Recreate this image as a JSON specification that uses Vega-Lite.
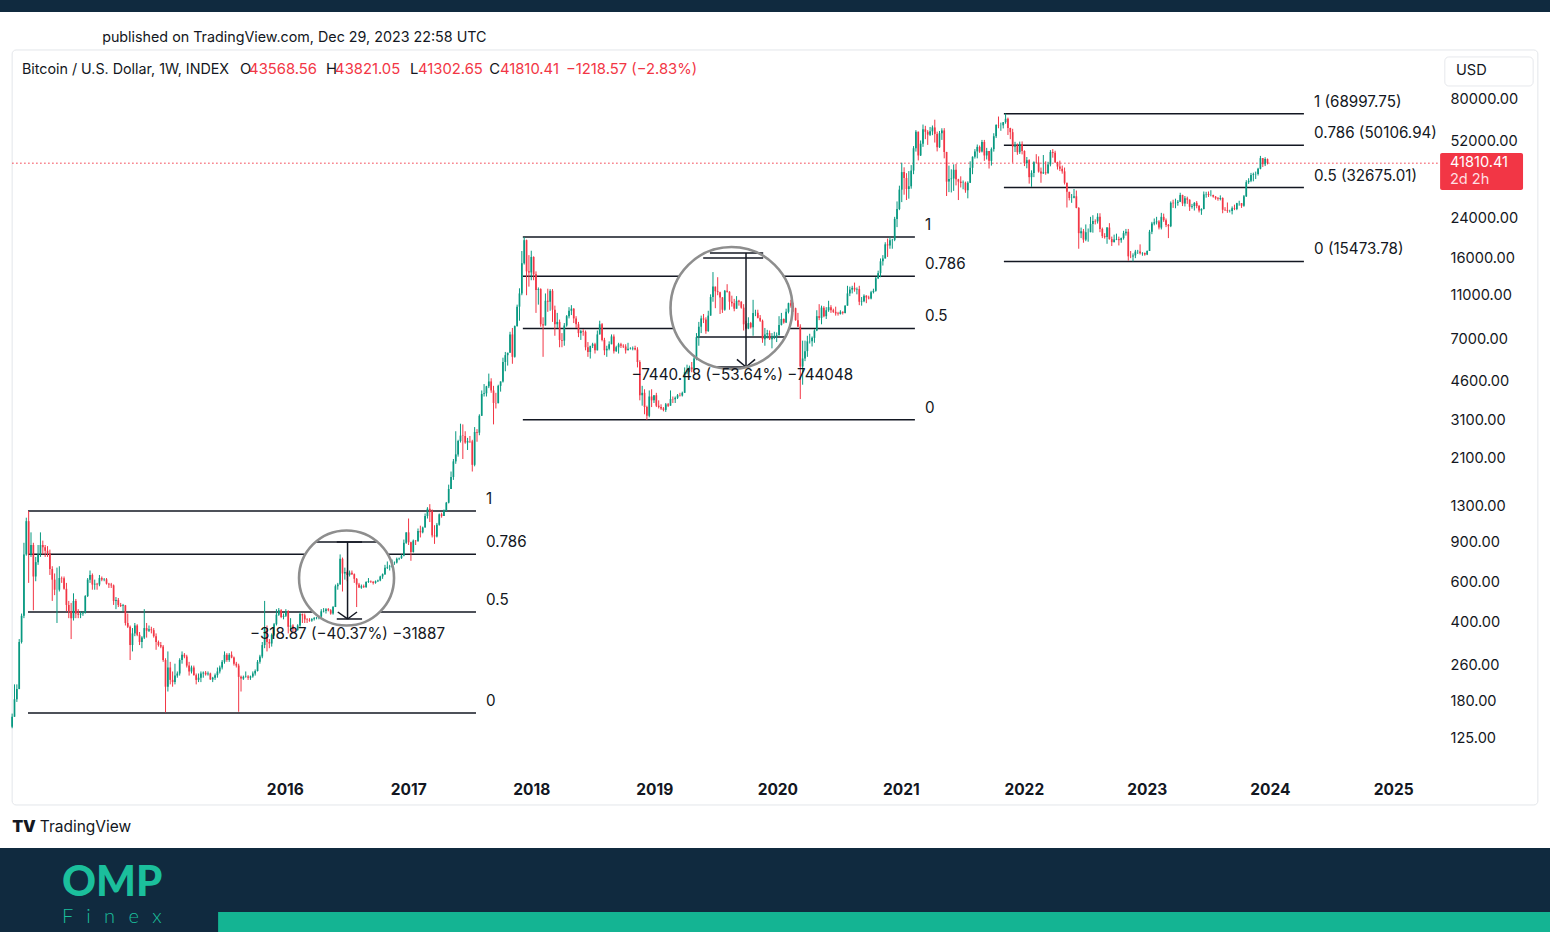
{
"$schema":"https://vega.github.io/schema/vega-lite/v6.json",
"width":1550,"height":932,"autosize":{"type":"none"},"padding":0,"background":"#ffffff",
"config":{"view":{"stroke":null},"text":{"font":"Inter"}},
"resolve":{"axis":{"x":"independent","y":"independent"}},
"datasets":{"one":[{}],"btc":[
{"d":"2013-10-14","o":140,"h":160,"l":138,"c":155},{"d":"2013-10-21","o":155,"h":215,"l":155,"c":185},{"d":"2013-10-28","o":185,"h":215,"l":180,"c":205},{"d":"2013-11-04","o":205,"h":340,"l":205,"c":330},{"d":"2013-11-11","o":330,"h":440,"l":325,"c":430},{"d":"2013-11-18","o":430,"h":900,"l":420,"c":800},{"d":"2013-11-25","o":800,"h":1160,"l":790,"c":1120},{"d":"2013-12-02","o":1120,"h":1240,"l":600,"c":800},{"d":"2013-12-09","o":800,"h":1000,"l":780,"c":880},{"d":"2013-12-16","o":880,"h":900,"l":455,"c":640},{"d":"2013-12-23","o":640,"h":780,"l":610,"c":740},{"d":"2013-12-30","o":740,"h":880,"l":720,"c":800},
{"d":"2014-01-06","o":800,"h":1000,"l":780,"c":880},{"d":"2014-01-13","o":880,"h":920,"l":800,"c":860},{"d":"2014-01-20","o":860,"h":880,"l":780,"c":830},{"d":"2014-01-27","o":830,"h":870,"l":780,"c":810},{"d":"2014-02-03","o":810,"h":840,"l":650,"c":690},{"d":"2014-02-10","o":690,"h":710,"l":500,"c":620},{"d":"2014-02-17","o":620,"h":660,"l":530,"c":560},{"d":"2014-02-24","o":560,"h":700,"l":400,"c":560},{"d":"2014-03-03","o":560,"h":710,"l":550,"c":630},{"d":"2014-03-10","o":630,"h":640,"l":600,"c":628},{"d":"2014-03-17","o":628,"h":640,"l":560,"c":565},{"d":"2014-03-24","o":565,"h":600,"l":450,"c":480},{"d":"2014-03-31","o":480,"h":500,"l":420,"c":450},{"d":"2014-04-07","o":450,"h":490,"l":340,"c":420},{"d":"2014-04-14","o":420,"h":540,"l":410,"c":500},{"d":"2014-04-21","o":500,"h":510,"l":420,"c":440},{"d":"2014-04-28","o":440,"h":460,"l":420,"c":435},{"d":"2014-05-05","o":435,"h":450,"l":420,"c":440},{"d":"2014-05-12","o":440,"h":450,"l":430,"c":445},{"d":"2014-05-19","o":445,"h":530,"l":440,"c":525},{"d":"2014-05-26","o":525,"h":630,"l":520,"c":620},{"d":"2014-06-02","o":620,"h":680,"l":600,"c":650},{"d":"2014-06-09","o":650,"h":660,"l":560,"c":590},{"d":"2014-06-16","o":590,"h":620,"l":560,"c":595},{"d":"2014-06-23","o":595,"h":600,"l":560,"c":590},{"d":"2014-06-30","o":590,"h":650,"l":580,"c":630},{"d":"2014-07-07","o":630,"h":640,"l":610,"c":620},{"d":"2014-07-14","o":620,"h":630,"l":610,"c":622},{"d":"2014-07-21","o":622,"h":630,"l":590,"c":595},{"d":"2014-07-28","o":595,"h":600,"l":570,"c":590},{"d":"2014-08-04","o":590,"h":600,"l":570,"c":585},{"d":"2014-08-11","o":585,"h":590,"l":480,"c":500},{"d":"2014-08-18","o":500,"h":520,"l":460,"c":505},{"d":"2014-08-25","o":505,"h":515,"l":470,"c":480},{"d":"2014-09-01","o":480,"h":490,"l":470,"c":475},{"d":"2014-09-08","o":475,"h":485,"l":450,"c":478},{"d":"2014-09-15","o":478,"h":480,"l":390,"c":400},{"d":"2014-09-22","o":400,"h":440,"l":380,"c":385},{"d":"2014-09-29","o":385,"h":390,"l":275,"c":320},{"d":"2014-10-06","o":320,"h":380,"l":300,"c":360},{"d":"2014-10-13","o":360,"h":400,"l":350,"c":390},{"d":"2014-10-20","o":390,"h":395,"l":350,"c":355},{"d":"2014-10-27","o":355,"h":365,"l":320,"c":330},{"d":"2014-11-03","o":330,"h":350,"l":310,"c":345},{"d":"2014-11-10","o":345,"h":460,"l":340,"c":380},{"d":"2014-11-17","o":380,"h":400,"l":345,"c":370},{"d":"2014-11-24","o":370,"h":390,"l":365,"c":375},{"d":"2014-12-01","o":375,"h":385,"l":360,"c":372},{"d":"2014-12-08","o":372,"h":380,"l":345,"c":350},{"d":"2014-12-15","o":350,"h":360,"l":305,"c":330},{"d":"2014-12-22","o":330,"h":335,"l":315,"c":320},{"d":"2014-12-29","o":320,"h":330,"l":310,"c":315},
{"d":"2015-01-05","o":315,"h":320,"l":270,"c":275},{"d":"2015-01-12","o":275,"h":280,"l":162,"c":210},{"d":"2015-01-19","o":210,"h":300,"l":200,"c":255},{"d":"2015-01-26","o":255,"h":270,"l":215,"c":225},{"d":"2015-02-02","o":225,"h":245,"l":210,"c":220},{"d":"2015-02-09","o":220,"h":265,"l":215,"c":235},{"d":"2015-02-16","o":235,"h":245,"l":230,"c":240},{"d":"2015-02-23","o":240,"h":280,"l":235,"c":275},{"d":"2015-03-02","o":275,"h":300,"l":265,"c":290},{"d":"2015-03-09","o":290,"h":295,"l":280,"c":285},{"d":"2015-03-16","o":285,"h":290,"l":255,"c":260},{"d":"2015-03-23","o":260,"h":270,"l":235,"c":245},{"d":"2015-03-30","o":245,"h":260,"l":240,"c":255},{"d":"2015-04-06","o":255,"h":260,"l":235,"c":236},{"d":"2015-04-13","o":236,"h":240,"l":215,"c":225},{"d":"2015-04-20","o":225,"h":240,"l":220,"c":230},{"d":"2015-04-27","o":230,"h":245,"l":220,"c":240},{"d":"2015-05-04","o":240,"h":245,"l":230,"c":242},{"d":"2015-05-11","o":242,"h":246,"l":235,"c":238},{"d":"2015-05-18","o":238,"h":245,"l":235,"c":240},{"d":"2015-05-25","o":240,"h":242,"l":225,"c":226},{"d":"2015-06-01","o":226,"h":232,"l":220,"c":230},{"d":"2015-06-08","o":230,"h":240,"l":225,"c":236},{"d":"2015-06-15","o":236,"h":255,"l":230,"c":245},{"d":"2015-06-22","o":245,"h":260,"l":240,"c":255},{"d":"2015-06-29","o":255,"h":275,"l":250,"c":270},{"d":"2015-07-06","o":270,"h":300,"l":265,"c":290},{"d":"2015-07-13","o":290,"h":295,"l":270,"c":275},{"d":"2015-07-20","o":275,"h":295,"l":270,"c":290},{"d":"2015-07-27","o":290,"h":300,"l":280,"c":282},{"d":"2015-08-03","o":282,"h":285,"l":260,"c":265},{"d":"2015-08-10","o":265,"h":270,"l":255,"c":260},{"d":"2015-08-17","o":260,"h":265,"l":163,"c":232},{"d":"2015-08-24","o":232,"h":235,"l":200,"c":228},{"d":"2015-08-31","o":228,"h":235,"l":225,"c":232},{"d":"2015-09-07","o":232,"h":245,"l":230,"c":233},{"d":"2015-09-14","o":233,"h":236,"l":225,"c":230},{"d":"2015-09-21","o":230,"h":235,"l":225,"c":233},{"d":"2015-09-28","o":233,"h":245,"l":230,"c":240},{"d":"2015-10-05","o":240,"h":250,"l":235,"c":246},{"d":"2015-10-12","o":246,"h":275,"l":245,"c":270},{"d":"2015-10-19","o":270,"h":290,"l":265,"c":285},{"d":"2015-10-26","o":285,"h":330,"l":280,"c":320},{"d":"2015-11-02","o":320,"h":500,"l":310,"c":380},{"d":"2015-11-09","o":380,"h":390,"l":300,"c":330},{"d":"2015-11-16","o":330,"h":340,"l":310,"c":325},{"d":"2015-11-23","o":325,"h":360,"l":315,"c":355},{"d":"2015-11-30","o":355,"h":400,"l":350,"c":395},{"d":"2015-12-07","o":395,"h":460,"l":390,"c":435},{"d":"2015-12-14","o":435,"h":465,"l":430,"c":455},{"d":"2015-12-21","o":455,"h":460,"l":420,"c":425},{"d":"2015-12-28","o":425,"h":440,"l":415,"c":430},
{"d":"2016-01-04","o":430,"h":460,"l":425,"c":450},{"d":"2016-01-11","o":450,"h":455,"l":360,"c":385},{"d":"2016-01-18","o":385,"h":420,"l":370,"c":390},{"d":"2016-01-25","o":390,"h":395,"l":365,"c":375},{"d":"2016-02-01","o":375,"h":380,"l":365,"c":372},{"d":"2016-02-08","o":372,"h":395,"l":370,"c":390},{"d":"2016-02-15","o":390,"h":445,"l":385,"c":438},{"d":"2016-02-22","o":438,"h":440,"l":400,"c":432},{"d":"2016-02-29","o":432,"h":440,"l":400,"c":415},{"d":"2016-03-07","o":415,"h":420,"l":400,"c":413},{"d":"2016-03-14","o":413,"h":420,"l":405,"c":410},{"d":"2016-03-21","o":410,"h":420,"l":405,"c":416},{"d":"2016-03-28","o":416,"h":425,"l":410,"c":420},{"d":"2016-04-04","o":420,"h":425,"l":415,"c":422},{"d":"2016-04-11","o":422,"h":430,"l":415,"c":427},{"d":"2016-04-18","o":427,"h":460,"l":420,"c":450},{"d":"2016-04-25","o":450,"h":465,"l":445,"c":452},{"d":"2016-05-02","o":452,"h":465,"l":440,"c":460},{"d":"2016-05-09","o":460,"h":465,"l":450,"c":455},{"d":"2016-05-16","o":455,"h":460,"l":435,"c":440},{"d":"2016-05-23","o":440,"h":475,"l":435,"c":470},{"d":"2016-05-30","o":470,"h":590,"l":470,"c":580},{"d":"2016-06-06","o":580,"h":600,"l":560,"c":590},{"d":"2016-06-13","o":590,"h":800,"l":590,"c":765},{"d":"2016-06-20","o":765,"h":775,"l":550,"c":660},{"d":"2016-06-27","o":660,"h":700,"l":620,"c":670},{"d":"2016-07-04","o":670,"h":680,"l":610,"c":650},{"d":"2016-07-11","o":650,"h":680,"l":640,"c":665},{"d":"2016-07-18","o":665,"h":680,"l":650,"c":655},{"d":"2016-07-25","o":655,"h":660,"l":600,"c":625},{"d":"2016-08-01","o":625,"h":630,"l":470,"c":590},{"d":"2016-08-08","o":590,"h":600,"l":570,"c":572},{"d":"2016-08-15","o":572,"h":590,"l":565,"c":580},{"d":"2016-08-22","o":580,"h":590,"l":570,"c":575},{"d":"2016-08-29","o":575,"h":610,"l":570,"c":605},{"d":"2016-09-05","o":605,"h":630,"l":600,"c":610},{"d":"2016-09-12","o":610,"h":615,"l":600,"c":607},{"d":"2016-09-19","o":607,"h":610,"l":590,"c":600},{"d":"2016-09-26","o":600,"h":615,"l":595,"c":610},{"d":"2016-10-03","o":610,"h":620,"l":605,"c":615},{"d":"2016-10-10","o":615,"h":645,"l":610,"c":640},{"d":"2016-10-17","o":640,"h":660,"l":625,"c":655},{"d":"2016-10-24","o":655,"h":720,"l":650,"c":700},{"d":"2016-10-31","o":700,"h":745,"l":690,"c":705},{"d":"2016-11-07","o":705,"h":720,"l":680,"c":708},{"d":"2016-11-14","o":708,"h":760,"l":700,"c":735},{"d":"2016-11-21","o":735,"h":745,"l":720,"c":737},{"d":"2016-11-28","o":737,"h":775,"l":730,"c":765},{"d":"2016-12-05","o":765,"h":775,"l":755,"c":770},{"d":"2016-12-12","o":770,"h":800,"l":765,"c":790},{"d":"2016-12-19","o":790,"h":930,"l":785,"c":900},{"d":"2016-12-26","o":900,"h":1000,"l":890,"c":1000},
{"d":"2017-01-02","o":1000,"h":1150,"l":880,"c":905},{"d":"2017-01-09","o":905,"h":910,"l":750,"c":820},{"d":"2017-01-16","o":820,"h":930,"l":815,"c":920},{"d":"2017-01-23","o":920,"h":925,"l":880,"c":915},{"d":"2017-01-30","o":915,"h":1040,"l":910,"c":1015},{"d":"2017-02-06","o":1015,"h":1070,"l":950,"c":1000},{"d":"2017-02-13","o":1000,"h":1060,"l":990,"c":1050},{"d":"2017-02-20","o":1050,"h":1210,"l":1050,"c":1180},{"d":"2017-02-27","o":1180,"h":1290,"l":1150,"c":1270},{"d":"2017-03-06","o":1270,"h":1330,"l":1110,"c":1240},{"d":"2017-03-13","o":1240,"h":1260,"l":950,"c":970},{"d":"2017-03-20","o":970,"h":1075,"l":890,"c":960},{"d":"2017-03-27","o":960,"h":1100,"l":950,"c":1080},{"d":"2017-04-03","o":1080,"h":1210,"l":1070,"c":1200},{"d":"2017-04-10","o":1200,"h":1220,"l":1160,"c":1180},{"d":"2017-04-17","o":1180,"h":1260,"l":1180,"c":1250},{"d":"2017-04-24","o":1250,"h":1360,"l":1240,"c":1350},{"d":"2017-05-01","o":1350,"h":1620,"l":1340,"c":1550},{"d":"2017-05-08","o":1550,"h":1850,"l":1550,"c":1750},{"d":"2017-05-15","o":1750,"h":2100,"l":1700,"c":2050},{"d":"2017-05-22","o":2050,"h":2780,"l":2000,"c":2200},{"d":"2017-05-29","o":2200,"h":2550,"l":2150,"c":2520},{"d":"2017-06-05","o":2520,"h":3000,"l":2480,"c":2660},{"d":"2017-06-12","o":2660,"h":2980,"l":2100,"c":2650},{"d":"2017-06-19","o":2650,"h":2780,"l":2450,"c":2480},{"d":"2017-06-26","o":2480,"h":2600,"l":2300,"c":2520},{"d":"2017-07-03","o":2520,"h":2650,"l":2470,"c":2510},{"d":"2017-07-10","o":2510,"h":2550,"l":1850,"c":1980},{"d":"2017-07-17","o":1980,"h":2900,"l":1950,"c":2760},{"d":"2017-07-24","o":2760,"h":2840,"l":2500,"c":2740},{"d":"2017-07-31","o":2740,"h":3300,"l":2670,"c":3250},{"d":"2017-08-07","o":3250,"h":4200,"l":3250,"c":4050},{"d":"2017-08-14","o":4050,"h":4480,"l":3950,"c":4080},{"d":"2017-08-21","o":4080,"h":4400,"l":3950,"c":4380},{"d":"2017-08-28","o":4380,"h":4980,"l":4300,"c":4600},{"d":"2017-09-04","o":4600,"h":4750,"l":4100,"c":4200},{"d":"2017-09-11","o":4200,"h":4400,"l":2980,"c":3700},{"d":"2017-09-18","o":3700,"h":4100,"l":3500,"c":3690},{"d":"2017-09-25","o":3690,"h":4450,"l":3690,"c":4400},{"d":"2017-10-02","o":4400,"h":4600,"l":4150,"c":4600},{"d":"2017-10-09","o":4600,"h":5850,"l":4550,"c":5600},{"d":"2017-10-16","o":5600,"h":6200,"l":5100,"c":6000},{"d":"2017-10-23","o":6000,"h":6150,"l":5400,"c":6150},{"d":"2017-10-30","o":6150,"h":7600,"l":6150,"c":7400},{"d":"2017-11-06","o":7400,"h":7900,"l":5500,"c":5900},{"d":"2017-11-13","o":5900,"h":8100,"l":5850,"c":8050},{"d":"2017-11-20","o":8050,"h":10000,"l":8000,"c":9800},{"d":"2017-11-27","o":9800,"h":11800,"l":8500,"c":11200},{"d":"2017-12-04","o":11200,"h":17200,"l":11000,"c":15200},{"d":"2017-12-11","o":15200,"h":19800,"l":15000,"c":19200},{"d":"2017-12-18","o":19200,"h":19300,"l":11000,"c":14000},{"d":"2017-12-25","o":14000,"h":16500,"l":12000,"c":13850},
{"d":"2018-01-01","o":13850,"h":17250,"l":12800,"c":16200},{"d":"2018-01-08","o":16200,"h":16300,"l":12800,"c":13600},{"d":"2018-01-15","o":13600,"h":14000,"l":9200,"c":11600},{"d":"2018-01-22","o":11600,"h":11900,"l":10000,"c":11700},{"d":"2018-01-29","o":11700,"h":11800,"l":8000,"c":8200},{"d":"2018-02-05","o":8200,"h":8800,"l":5900,"c":8100},{"d":"2018-02-12","o":8100,"h":11200,"l":8100,"c":10400},{"d":"2018-02-19","o":10400,"h":11750,"l":9300,"c":10300},{"d":"2018-02-26","o":10300,"h":11700,"l":9400,"c":11500},{"d":"2018-03-05","o":11500,"h":11700,"l":8400,"c":9500},{"d":"2018-03-12","o":9500,"h":9900,"l":7300,"c":8200},{"d":"2018-03-19","o":8200,"h":9200,"l":7900,"c":8400},{"d":"2018-03-26","o":8400,"h":8600,"l":6500,"c":7000},{"d":"2018-04-02","o":7000,"h":7500,"l":6500,"c":6950},{"d":"2018-04-09","o":6950,"h":8300,"l":6600,"c":8100},{"d":"2018-04-16","o":8100,"h":9000,"l":8000,"c":8900},{"d":"2018-04-23","o":8900,"h":9750,"l":8700,"c":9400},{"d":"2018-04-30","o":9400,"h":9950,"l":9000,"c":9600},{"d":"2018-05-07","o":9600,"h":9650,"l":8300,"c":8700},{"d":"2018-05-14","o":8700,"h":8900,"l":7900,"c":8200},{"d":"2018-05-21","o":8200,"h":8400,"l":7200,"c":7500},{"d":"2018-05-28","o":7500,"h":7750,"l":7000,"c":7650},{"d":"2018-06-04","o":7650,"h":7800,"l":7300,"c":7600},{"d":"2018-06-11","o":7600,"h":7700,"l":6300,"c":6500},{"d":"2018-06-18","o":6500,"h":6850,"l":5900,"c":6200},{"d":"2018-06-25","o":6200,"h":6500,"l":5800,"c":6600},{"d":"2018-07-02","o":6600,"h":6800,"l":6450,"c":6700},{"d":"2018-07-09","o":6700,"h":6800,"l":6100,"c":6300},{"d":"2018-07-16","o":6300,"h":7700,"l":6300,"c":7400},{"d":"2018-07-23","o":7400,"h":8500,"l":7400,"c":8200},{"d":"2018-07-30","o":8200,"h":8300,"l":6900,"c":7000},{"d":"2018-08-06","o":7000,"h":7150,"l":6000,"c":6300},{"d":"2018-08-13","o":6300,"h":6600,"l":5900,"c":6400},{"d":"2018-08-20","o":6400,"h":6900,"l":6300,"c":6700},{"d":"2018-08-27","o":6700,"h":7400,"l":6700,"c":7250},{"d":"2018-09-03","o":7250,"h":7400,"l":6100,"c":6250},{"d":"2018-09-10","o":6250,"h":6600,"l":6200,"c":6500},{"d":"2018-09-17","o":6500,"h":6800,"l":6100,"c":6700},{"d":"2018-09-24","o":6700,"h":6800,"l":6450,"c":6600},{"d":"2018-10-01","o":6600,"h":6700,"l":6450,"c":6550},{"d":"2018-10-08","o":6550,"h":6700,"l":6100,"c":6300},{"d":"2018-10-15","o":6300,"h":6800,"l":6300,"c":6400},{"d":"2018-10-22","o":6400,"h":6500,"l":6350,"c":6420},{"d":"2018-10-29","o":6420,"h":6550,"l":6300,"c":6450},{"d":"2018-11-05","o":6450,"h":6600,"l":6300,"c":6350},{"d":"2018-11-12","o":6350,"h":6500,"l":5300,"c":5600},{"d":"2018-11-19","o":5600,"h":5700,"l":3800,"c":4000},{"d":"2018-11-26","o":4000,"h":4400,"l":3600,"c":4100},{"d":"2018-12-03","o":4100,"h":4250,"l":3300,"c":3550},{"d":"2018-12-10","o":3550,"h":3600,"l":3120,"c":3250},{"d":"2018-12-17","o":3250,"h":4200,"l":3200,"c":3950},{"d":"2018-12-24","o":3950,"h":4250,"l":3550,"c":3800},{"d":"2018-12-31","o":3800,"h":4000,"l":3700,"c":4000},
{"d":"2019-01-07","o":4000,"h":4100,"l":3550,"c":3600},{"d":"2019-01-14","o":3600,"h":3800,"l":3500,"c":3550},{"d":"2019-01-21","o":3550,"h":3650,"l":3450,"c":3500},{"d":"2019-01-28","o":3500,"h":3550,"l":3400,"c":3450},{"d":"2019-02-04","o":3450,"h":3700,"l":3380,"c":3650},{"d":"2019-02-11","o":3650,"h":3700,"l":3550,"c":3600},{"d":"2019-02-18","o":3600,"h":4200,"l":3600,"c":3850},{"d":"2019-02-25","o":3850,"h":3950,"l":3700,"c":3840},{"d":"2019-03-04","o":3840,"h":3950,"l":3700,"c":3900},{"d":"2019-03-11","o":3900,"h":4050,"l":3850,"c":4000},{"d":"2019-03-18","o":4000,"h":4100,"l":3950,"c":3990},{"d":"2019-03-25","o":3990,"h":4150,"l":3950,"c":4100},{"d":"2019-04-01","o":4100,"h":5300,"l":4100,"c":5050},{"d":"2019-04-08","o":5050,"h":5450,"l":4950,"c":5100},{"d":"2019-04-15","o":5100,"h":5400,"l":5050,"c":5300},{"d":"2019-04-22","o":5300,"h":5600,"l":5050,"c":5200},{"d":"2019-04-29","o":5200,"h":5900,"l":5150,"c":5800},{"d":"2019-05-06","o":5800,"h":7500,"l":5700,"c":7200},{"d":"2019-05-13","o":7200,"h":8400,"l":6600,"c":8000},{"d":"2019-05-20","o":8000,"h":8950,"l":7500,"c":8700},{"d":"2019-05-27","o":8700,"h":9100,"l":8300,"c":8600},{"d":"2019-06-03","o":8600,"h":8800,"l":7450,"c":7650},{"d":"2019-06-10","o":7650,"h":9400,"l":7600,"c":8950},{"d":"2019-06-17","o":8950,"h":11100,"l":8950,"c":10800},{"d":"2019-06-24","o":10800,"h":13900,"l":10300,"c":12000},{"d":"2019-07-01","o":12000,"h":12000,"l":9650,"c":11450},{"d":"2019-07-08","o":11450,"h":13200,"l":11000,"c":11350},{"d":"2019-07-15","o":11350,"h":11400,"l":9100,"c":10750},{"d":"2019-07-22","o":10750,"h":10800,"l":9200,"c":9500},{"d":"2019-07-29","o":9500,"h":11600,"l":9400,"c":11500},{"d":"2019-08-05","o":11500,"h":12300,"l":11300,"c":11400},{"d":"2019-08-12","o":11400,"h":11450,"l":9500,"c":10300},{"d":"2019-08-19","o":10300,"h":10950,"l":9800,"c":10150},{"d":"2019-08-26","o":10150,"h":10600,"l":9350,"c":9600},{"d":"2019-09-02","o":9600,"h":10900,"l":9600,"c":10400},{"d":"2019-09-09","o":10400,"h":10500,"l":9900,"c":10300},{"d":"2019-09-16","o":10300,"h":10350,"l":9600,"c":9700},{"d":"2019-09-23","o":9700,"h":10050,"l":7700,"c":8200},{"d":"2019-09-30","o":8200,"h":8500,"l":7800,"c":7850},{"d":"2019-10-07","o":7850,"h":8800,"l":7800,"c":8300},{"d":"2019-10-14","o":8300,"h":8400,"l":7850,"c":7950},{"d":"2019-10-21","o":7950,"h":10500,"l":7300,"c":9200},{"d":"2019-10-28","o":9200,"h":9500,"l":8900,"c":9210},{"d":"2019-11-04","o":9210,"h":9500,"l":8700,"c":8750},{"d":"2019-11-11","o":8750,"h":9000,"l":8400,"c":8500},{"d":"2019-11-18","o":8500,"h":8600,"l":6800,"c":7050},{"d":"2019-11-25","o":7050,"h":7900,"l":6600,"c":7400},{"d":"2019-12-02","o":7400,"h":7750,"l":7100,"c":7500},{"d":"2019-12-09","o":7500,"h":7700,"l":7000,"c":7050},{"d":"2019-12-16","o":7050,"h":7500,"l":6430,"c":7200},{"d":"2019-12-23","o":7200,"h":7600,"l":7050,"c":7300},{"d":"2019-12-30","o":7300,"h":7550,"l":6850,"c":7350},
{"d":"2020-01-06","o":7350,"h":8900,"l":7300,"c":8150},{"d":"2020-01-13","o":8150,"h":9200,"l":8100,"c":8650},{"d":"2020-01-20","o":8650,"h":8700,"l":8250,"c":8350},{"d":"2020-01-27","o":8350,"h":9600,"l":8300,"c":9300},{"d":"2020-02-03","o":9300,"h":10200,"l":9150,"c":10150},{"d":"2020-02-10","o":10150,"h":10500,"l":9700,"c":9900},{"d":"2020-02-17","o":9900,"h":10200,"l":9300,"c":9650},{"d":"2020-02-24","o":9650,"h":9700,"l":8500,"c":8550},{"d":"2020-03-02","o":8550,"h":9200,"l":8000,"c":8000},{"d":"2020-03-09","o":8000,"h":8200,"l":3850,"c":5350},{"d":"2020-03-16","o":5350,"h":6950,"l":4450,"c":5800},{"d":"2020-03-23","o":5800,"h":6950,"l":5650,"c":6250},{"d":"2020-03-30","o":6250,"h":7300,"l":5900,"c":6900},{"d":"2020-04-06","o":6900,"h":7450,"l":6750,"c":6910},{"d":"2020-04-13","o":6910,"h":7250,"l":6550,"c":7150},{"d":"2020-04-20","o":7150,"h":7800,"l":6800,"c":7700},{"d":"2020-04-27","o":7700,"h":9450,"l":7650,"c":8900},{"d":"2020-05-04","o":8900,"h":10050,"l":8550,"c":8750},{"d":"2020-05-11","o":8750,"h":9900,"l":8200,"c":9700},{"d":"2020-05-18","o":9700,"h":9850,"l":8800,"c":8900},{"d":"2020-05-25","o":8900,"h":9750,"l":8650,"c":9450},{"d":"2020-06-01","o":9450,"h":10400,"l":9300,"c":9750},{"d":"2020-06-08","o":9750,"h":9950,"l":9200,"c":9450},{"d":"2020-06-15","o":9450,"h":9600,"l":9200,"c":9300},{"d":"2020-06-22","o":9300,"h":9800,"l":8950,"c":9150},{"d":"2020-06-29","o":9150,"h":9300,"l":8950,"c":9100},{"d":"2020-07-06","o":9100,"h":9450,"l":9050,"c":9300},{"d":"2020-07-13","o":9300,"h":9350,"l":9050,"c":9200},{"d":"2020-07-20","o":9200,"h":9950,"l":9150,"c":9900},{"d":"2020-07-27","o":9900,"h":12100,"l":9900,"c":11200},{"d":"2020-08-03","o":11200,"h":12000,"l":10900,"c":11650},{"d":"2020-08-10","o":11650,"h":12100,"l":11200,"c":11850},{"d":"2020-08-17","o":11850,"h":12500,"l":11400,"c":11650},{"d":"2020-08-24","o":11650,"h":11900,"l":11100,"c":11700},{"d":"2020-08-31","o":11700,"h":12100,"l":9950,"c":10300},{"d":"2020-09-07","o":10300,"h":10800,"l":9900,"c":10350},{"d":"2020-09-14","o":10350,"h":11100,"l":10250,"c":10950},{"d":"2020-09-21","o":10950,"h":11000,"l":10150,"c":10750},{"d":"2020-09-28","o":10750,"h":10950,"l":10550,"c":10650},{"d":"2020-10-05","o":10650,"h":11500,"l":10550,"c":11350},{"d":"2020-10-12","o":11350,"h":11750,"l":11200,"c":11500},{"d":"2020-10-19","o":11500,"h":13250,"l":11400,"c":13050},{"d":"2020-10-26","o":13050,"h":14100,"l":12950,"c":13750},{"d":"2020-11-02","o":13750,"h":15950,"l":13200,"c":15500},{"d":"2020-11-09","o":15500,"h":16500,"l":14850,"c":15950},{"d":"2020-11-16","o":15950,"h":18800,"l":15950,"c":18400},{"d":"2020-11-23","o":18400,"h":19500,"l":16200,"c":18200},{"d":"2020-11-30","o":18200,"h":19900,"l":17600,"c":19200},{"d":"2020-12-07","o":19200,"h":19450,"l":17600,"c":19250},{"d":"2020-12-14","o":19250,"h":24300,"l":19000,"c":23800},{"d":"2020-12-21","o":23800,"h":28400,"l":21900,"c":26300},{"d":"2020-12-28","o":26300,"h":33300,"l":26000,"c":32000},
{"d":"2021-01-04","o":32000,"h":42000,"l":28200,"c":38200},{"d":"2021-01-11","o":38200,"h":40100,"l":30400,"c":36000},{"d":"2021-01-18","o":36000,"h":37800,"l":28800,"c":32200},{"d":"2021-01-25","o":32200,"h":38600,"l":29200,"c":33100},{"d":"2021-02-01","o":33100,"h":41000,"l":32300,"c":38800},{"d":"2021-02-08","o":38800,"h":49700,"l":37400,"c":48600},{"d":"2021-02-15","o":48600,"h":58400,"l":47000,"c":57500},{"d":"2021-02-22","o":57500,"h":57500,"l":43000,"c":45200},{"d":"2021-03-01","o":45200,"h":52600,"l":44950,"c":50900},{"d":"2021-03-08","o":50900,"h":61800,"l":49300,"c":58900},{"d":"2021-03-15","o":58900,"h":61000,"l":53300,"c":57400},{"d":"2021-03-22","o":57400,"h":58400,"l":50300,"c":55800},{"d":"2021-03-29","o":55800,"h":60300,"l":55000,"c":57700},{"d":"2021-04-05","o":57700,"h":61200,"l":55500,"c":60000},{"d":"2021-04-12","o":60000,"h":64900,"l":51500,"c":56200},{"d":"2021-04-19","o":56200,"h":57500,"l":47100,"c":49100},{"d":"2021-04-26","o":49100,"h":57900,"l":48800,"c":56600},{"d":"2021-05-03","o":56600,"h":59500,"l":52900,"c":58200},{"d":"2021-05-10","o":58200,"h":59600,"l":43900,"c":46800},{"d":"2021-05-17","o":46800,"h":46900,"l":30000,"c":34700},{"d":"2021-05-24","o":34700,"h":40800,"l":31200,"c":35600},{"d":"2021-05-31","o":35600,"h":39300,"l":31100,"c":35800},{"d":"2021-06-07","o":35800,"h":41300,"l":31600,"c":39100},{"d":"2021-06-14","o":39100,"h":41500,"l":33400,"c":35500},{"d":"2021-06-21","o":35500,"h":35700,"l":28800,"c":34700},{"d":"2021-06-28","o":34700,"h":36600,"l":32700,"c":34200},{"d":"2021-07-05","o":34200,"h":35100,"l":32100,"c":34300},{"d":"2021-07-12","o":34300,"h":34700,"l":31000,"c":31800},{"d":"2021-07-19","o":31800,"h":34800,"l":29300,"c":34300},{"d":"2021-07-26","o":34300,"h":42600,"l":34200,"c":39900},{"d":"2021-08-02","o":39900,"h":44800,"l":37400,"c":44600},{"d":"2021-08-09","o":44600,"h":48200,"l":43800,"c":47100},{"d":"2021-08-16","o":47100,"h":50500,"l":43900,"c":49300},{"d":"2021-08-23","o":49300,"h":50000,"l":46400,"c":47000},{"d":"2021-08-30","o":47000,"h":52900,"l":46600,"c":51800},{"d":"2021-09-06","o":51800,"h":52900,"l":42800,"c":45200},{"d":"2021-09-13","o":45200,"h":48800,"l":43400,"c":47300},{"d":"2021-09-20","o":47300,"h":47300,"l":39600,"c":42800},{"d":"2021-09-27","o":42800,"h":49000,"l":40800,"c":48200},{"d":"2021-10-04","o":48200,"h":56600,"l":47000,"c":54900},{"d":"2021-10-11","o":54900,"h":62000,"l":53900,"c":61500},{"d":"2021-10-18","o":61500,"h":67000,"l":59500,"c":61300},{"d":"2021-10-25","o":61300,"h":63000,"l":58000,"c":61310},{"d":"2021-11-01","o":61310,"h":63300,"l":59400,"c":63300},{"d":"2021-11-08","o":63300,"h":69000,"l":62300,"c":65500},{"d":"2021-11-15","o":65500,"h":66300,"l":55600,"c":59700},{"d":"2021-11-22","o":59700,"h":59800,"l":53300,"c":57200},{"d":"2021-11-29","o":57200,"h":59200,"l":42000,"c":49400},{"d":"2021-12-06","o":49400,"h":51900,"l":46800,"c":50100},{"d":"2021-12-13","o":50100,"h":51000,"l":45500,"c":46700},{"d":"2021-12-20","o":46700,"h":52000,"l":45900,"c":50800},{"d":"2021-12-27","o":50800,"h":52100,"l":45700,"c":47300},
{"d":"2022-01-03","o":47300,"h":47600,"l":40600,"c":41800},{"d":"2022-01-10","o":41800,"h":44500,"l":39700,"c":43100},{"d":"2022-01-17","o":43100,"h":43500,"l":34000,"c":36300},{"d":"2022-01-24","o":36300,"h":38900,"l":32900,"c":37900},{"d":"2022-01-31","o":37900,"h":42600,"l":36300,"c":42200},{"d":"2022-02-07","o":42200,"h":45800,"l":41700,"c":42100},{"d":"2022-02-14","o":42100,"h":44800,"l":38000,"c":38400},{"d":"2022-02-21","o":38400,"h":40000,"l":34300,"c":37700},{"d":"2022-02-28","o":37700,"h":45400,"l":37500,"c":38100},{"d":"2022-03-07","o":38100,"h":42600,"l":37200,"c":37800},{"d":"2022-03-14","o":37800,"h":42400,"l":37600,"c":41300},{"d":"2022-03-21","o":41300,"h":47700,"l":40500,"c":46800},{"d":"2022-03-28","o":46800,"h":48200,"l":44200,"c":46400},{"d":"2022-04-04","o":46400,"h":47400,"l":41900,"c":42200},{"d":"2022-04-11","o":42200,"h":42400,"l":39200,"c":40400},{"d":"2022-04-18","o":40400,"h":42900,"l":38600,"c":39500},{"d":"2022-04-25","o":39500,"h":40800,"l":37600,"c":38500},{"d":"2022-05-02","o":38500,"h":40000,"l":33700,"c":34300},{"d":"2022-05-09","o":34300,"h":34300,"l":26700,"c":31300},{"d":"2022-05-16","o":31300,"h":31300,"l":28700,"c":29400},{"d":"2022-05-23","o":29400,"h":30600,"l":28000,"c":29450},{"d":"2022-05-30","o":29450,"h":32200,"l":29300,"c":29900},{"d":"2022-06-06","o":29900,"h":31700,"l":26500,"c":26600},{"d":"2022-06-13","o":26600,"h":26800,"l":17600,"c":20600},{"d":"2022-06-20","o":20600,"h":21800,"l":19600,"c":21000},{"d":"2022-06-27","o":21000,"h":21500,"l":18700,"c":19300},{"d":"2022-07-04","o":19300,"h":22500,"l":19000,"c":20800},{"d":"2022-07-11","o":20800,"h":21600,"l":18900,"c":20810},{"d":"2022-07-18","o":20810,"h":24300,"l":20800,"c":22600},{"d":"2022-07-25","o":22600,"h":24700,"l":20700,"c":23300},{"d":"2022-08-01","o":23300,"h":23700,"l":22500,"c":23200},{"d":"2022-08-08","o":23200,"h":25200,"l":22700,"c":24300},{"d":"2022-08-15","o":24300,"h":25200,"l":20800,"c":21500},{"d":"2022-08-22","o":21500,"h":21800,"l":19600,"c":20000},{"d":"2022-08-29","o":20000,"h":20600,"l":19500,"c":19800},{"d":"2022-09-05","o":19800,"h":21900,"l":18500,"c":21800},{"d":"2022-09-12","o":21800,"h":22800,"l":19300,"c":19400},{"d":"2022-09-19","o":19400,"h":19900,"l":18100,"c":18800},{"d":"2022-09-26","o":18800,"h":20300,"l":18800,"c":19300},{"d":"2022-10-03","o":19300,"h":20500,"l":19200,"c":19400},{"d":"2022-10-10","o":19400,"h":19900,"l":18200,"c":19200},{"d":"2022-10-17","o":19200,"h":19700,"l":18700,"c":19600},{"d":"2022-10-24","o":19600,"h":21100,"l":19300,"c":20600},{"d":"2022-10-31","o":20600,"h":21500,"l":20100,"c":20900},{"d":"2022-11-07","o":20900,"h":21500,"l":15600,"c":16300},{"d":"2022-11-14","o":16300,"h":17200,"l":16000,"c":16280},{"d":"2022-11-21","o":16280,"h":16800,"l":15480,"c":16450},{"d":"2022-11-28","o":16450,"h":17400,"l":16000,"c":17100},{"d":"2022-12-05","o":17100,"h":17400,"l":16700,"c":17110},{"d":"2022-12-12","o":17110,"h":18400,"l":16600,"c":16800},{"d":"2022-12-19","o":16800,"h":17000,"l":16400,"c":16850},{"d":"2022-12-26","o":16850,"h":16950,"l":16400,"c":16600},
{"d":"2023-01-02","o":16600,"h":17300,"l":16500,"c":17200},{"d":"2023-01-09","o":17200,"h":21300,"l":17200,"c":20900},{"d":"2023-01-16","o":20900,"h":23100,"l":20400,"c":22700},{"d":"2023-01-23","o":22700,"h":23900,"l":22300,"c":23000},{"d":"2023-01-30","o":23000,"h":24300,"l":22500,"c":23200},{"d":"2023-02-06","o":23200,"h":23500,"l":21400,"c":21800},{"d":"2023-02-13","o":21800,"h":25300,"l":21400,"c":24300},{"d":"2023-02-20","o":24300,"h":25100,"l":23100,"c":23500},{"d":"2023-02-27","o":23500,"h":23900,"l":21900,"c":22400},{"d":"2023-03-06","o":22400,"h":22600,"l":19600,"c":22100},{"d":"2023-03-13","o":22100,"h":28400,"l":21900,"c":28000},{"d":"2023-03-20","o":28000,"h":28900,"l":26600,"c":27900},{"d":"2023-03-27","o":27900,"h":29200,"l":26500,"c":28000},{"d":"2023-04-03","o":28000,"h":28800,"l":27200,"c":28300},{"d":"2023-04-10","o":28300,"h":31000,"l":28200,"c":30300},{"d":"2023-04-17","o":30300,"h":30400,"l":27100,"c":27800},{"d":"2023-04-24","o":27800,"h":30000,"l":27000,"c":29300},{"d":"2023-05-01","o":29300,"h":29800,"l":27700,"c":28900},{"d":"2023-05-08","o":28900,"h":29000,"l":25800,"c":26900},{"d":"2023-05-15","o":26900,"h":27700,"l":26400,"c":27100},{"d":"2023-05-22","o":27100,"h":28200,"l":25900,"c":28000},{"d":"2023-05-29","o":28000,"h":28500,"l":26500,"c":27100},{"d":"2023-06-05","o":27100,"h":27400,"l":25400,"c":25900},{"d":"2023-06-12","o":25900,"h":26500,"l":24800,"c":26300},{"d":"2023-06-19","o":26300,"h":31400,"l":26200,"c":30500},{"d":"2023-06-26","o":30500,"h":31300,"l":29500,"c":30600},{"d":"2023-07-03","o":30600,"h":31400,"l":29700,"c":30300},{"d":"2023-07-10","o":30300,"h":31800,"l":29900,"c":30310},{"d":"2023-07-17","o":30310,"h":30400,"l":29500,"c":29800},{"d":"2023-07-24","o":29800,"h":30000,"l":28900,"c":29300},{"d":"2023-07-31","o":29300,"h":29700,"l":28600,"c":29100},{"d":"2023-08-07","o":29100,"h":30200,"l":28700,"c":29400},{"d":"2023-08-14","o":29400,"h":29600,"l":25200,"c":26100},{"d":"2023-08-21","o":26100,"h":26800,"l":25800,"c":26000},{"d":"2023-08-28","o":26000,"h":28100,"l":25300,"c":25800},{"d":"2023-09-04","o":25800,"h":26100,"l":25400,"c":25810},{"d":"2023-09-11","o":25810,"h":27000,"l":24900,"c":26500},{"d":"2023-09-18","o":26500,"h":27500,"l":26000,"c":26300},{"d":"2023-09-25","o":26300,"h":28000,"l":26000,"c":27900},{"d":"2023-10-02","o":27900,"h":28600,"l":27200,"c":27910},{"d":"2023-10-09","o":27910,"h":27910,"l":26600,"c":27200},{"d":"2023-10-16","o":27200,"h":30300,"l":26900,"c":29900},{"d":"2023-10-23","o":29900,"h":35200,"l":29700,"c":34500},{"d":"2023-10-30","o":34500,"h":35900,"l":33900,"c":35000},{"d":"2023-11-06","o":35000,"h":37900,"l":34500,"c":37100},{"d":"2023-11-13","o":37100,"h":38000,"l":34800,"c":37400},{"d":"2023-11-20","o":37400,"h":38400,"l":35600,"c":37450},{"d":"2023-11-27","o":37450,"h":39900,"l":36900,"c":39500},{"d":"2023-12-04","o":39500,"h":45000,"l":39300,"c":44000},{"d":"2023-12-11","o":44000,"h":44000,"l":40200,"c":41400},{"d":"2023-12-18","o":41400,"h":44400,"l":40600,"c":43568},{"d":"2023-12-25","o":43568.56,"h":43821.05,"l":41302.65,"c":41810.41}
]},
"layer":[
{"data":{"name":"one"},"mark":{"type":"rect","color":"#102a3f"},"encoding":{"x":{"datum":{"year":2013,"month":1,"date":1},"type":"temporal","scale":{"domain":[{"year":2013,"month":9,"date":8},{"year":2026,"month":4,"date":11}],"nice":false},"axis":null},"x2":{"datum":{"year":2027,"month":1,"date":1}},"y":{"datum":400000,"type":"quantitative","scale":{"type":"log","domain":[17.58,217700],"nice":false},"axis":null},"y2":{"datum":192800}}},
{"data":{"name":"one"},"mark":{"type":"rect","color":"#102a3f"},"encoding":{"x":{"datum":{"year":2013,"month":1,"date":1},"type":"temporal","scale":{"domain":[{"year":2013,"month":9,"date":8},{"year":2026,"month":4,"date":11}],"nice":false},"axis":null},"x2":{"datum":{"year":2027,"month":1,"date":1}},"y":{"datum":41.11,"type":"quantitative","scale":{"type":"log","domain":[17.58,217700],"nice":false},"axis":null},"y2":{"datum":5}}},
{"data":{"name":"one"},"mark":{"type":"rect","color":"#14b493"},"encoding":{"x":{"datum":{"year":2015,"month":6,"date":17},"type":"temporal","scale":{"domain":[{"year":2013,"month":9,"date":8},{"year":2026,"month":4,"date":11}],"nice":false},"axis":null},"x2":{"datum":{"year":2027,"month":1,"date":1}},"y":{"datum":21.52,"type":"quantitative","scale":{"type":"log","domain":[17.58,217700],"nice":false},"axis":null},"y2":{"datum":5}}},
{"data":{"name":"one"},"mark":{"type":"rect","fillOpacity":0,"stroke":"#e3e6ea","strokeWidth":1,"cornerRadius":4},"encoding":{"x":{"datum":{"year":2013,"month":10,"date":14},"type":"temporal","scale":{"domain":[{"year":2013,"month":9,"date":8},{"year":2026,"month":4,"date":11}],"nice":false},"axis":null},"x2":{"datum":{"year":2026,"month":3,"date":6}},"y":{"datum":131330,"type":"quantitative","scale":{"type":"log","domain":[17.58,217700],"nice":false},"axis":null},"y2":{"datum":63.51}}},
{"data":{"values":[
{"a":"2013-11-30","b":"2017-07-21","p":1240},{"a":"2013-11-30","b":"2016-02-29","p":801},{"a":"2016-11-02","b":"2017-07-21","p":801},{"a":"2013-11-30","b":"2016-03-24","p":447},{"a":"2016-10-09","b":"2017-07-21","p":447},{"a":"2013-11-30","b":"2017-07-21","p":161},{"a":"2016-04-02","b":"2016-09-30","p":907},
{"a":"2017-12-07","b":"2021-02-12","p":19800},{"a":"2017-12-07","b":"2019-03-18","p":13334},{"a":"2020-01-17","b":"2021-02-12","p":13334},{"a":"2017-12-07","b":"2019-03-01","p":7860},{"a":"2020-02-04","b":"2021-02-12","p":7860},{"a":"2017-12-07","b":"2021-02-12","p":3120},{"a":"2019-05-26","b":"2019-11-20","p":16030},{"a":"2019-05-08","b":"2020-01-23","p":7211},
{"a":"2021-11-03","b":"2024-04-11","p":68997.75},{"a":"2021-11-03","b":"2024-04-11","p":50106.94},{"a":"2021-11-03","b":"2024-04-11","p":32675.01},{"a":"2021-11-03","b":"2024-04-11","p":15473.78}]},
"mark":{"type":"rule","color":"#131722","strokeWidth":1.5},
"encoding":{"x":{"field":"a","type":"temporal","scale":{"domain":[{"year":2013,"month":9,"date":8},{"year":2026,"month":4,"date":11}],"nice":false},"axis":null},"x2":{"field":"b"},"y":{"field":"p","type":"quantitative","scale":{"type":"log","domain":[17.58,217700],"nice":false},"axis":null}}},
{"data":{"name":"one"},"mark":{"type":"rule","color":"#f23645","strokeWidth":1,"strokeDash":[1.5,2.5]},"encoding":{"x":{"datum":{"year":2013,"month":10,"date":14},"type":"temporal","scale":{"domain":[{"year":2013,"month":9,"date":8},{"year":2026,"month":4,"date":11}],"nice":false},"axis":null},"x2":{"datum":{"year":2025,"month":5,"date":20}},"y":{"datum":41810.41,"type":"quantitative","scale":{"type":"log","domain":[17.58,217700],"nice":false},"axis":null}}},
{"data":{"name":"btc"},"mark":{"type":"rule","strokeWidth":1},
"encoding":{"x":{"field":"d","type":"temporal","scale":{"domain":[{"year":2013,"month":9,"date":8},{"year":2026,"month":4,"date":11}],"nice":false},
"axis":{"orient":"bottom","offset":-143,"values":[{"year":2016,"month":1,"date":1},{"year":2017,"month":1,"date":1},{"year":2018,"month":1,"date":1},{"year":2019,"month":1,"date":1},{"year":2020,"month":1,"date":1},{"year":2021,"month":1,"date":1},{"year":2022,"month":1,"date":1},{"year":2023,"month":1,"date":1},{"year":2024,"month":1,"date":1},{"year":2025,"month":1,"date":1}],"format":"%Y","labelFont":"Inter","labelFontSize":15.5,"labelFontWeight":"bold","labelColor":"#131722","ticks":false,"tickSize":0,"domain":false,"grid":false,"labelPadding":0,"labelBaseline":"middle","labelFlush":false,"labelOverlap":false,"title":null}},
"y":{"field":"l","type":"quantitative","scale":{"type":"log","domain":[17.58,217700],"nice":false},
"axis":{"orient":"right","offset":-100,"values":[125,180,260,400,600,900,1300,2100,3100,4600,7000,11000,16000,24000,52000,80000],"format":".2f","labelFont":"Inter","labelFontSize":14.6,"labelColor":"#131722","ticks":false,"tickSize":0,"domain":false,"grid":false,"labelPadding":0,"labelAlign":"left","labelBaseline":"middle","labelFlush":false,"labelOverlap":false,"title":null}},
"y2":{"field":"h"},
"color":{"condition":{"test":"datum.c >= datum.o","value":"#089981"},"value":"#f23645"}}},
{"data":{"name":"btc"},"mark":{"type":"rule","strokeWidth":1.7},
"encoding":{"x":{"field":"d","type":"temporal","scale":{"domain":[{"year":2013,"month":9,"date":8},{"year":2026,"month":4,"date":11}],"nice":false},"axis":null},
"y":{"field":"o","type":"quantitative","scale":{"type":"log","domain":[17.58,217700],"nice":false},"axis":null},"y2":{"field":"c"},
"color":{"condition":{"test":"datum.c >= datum.o","value":"#089981"},"value":"#f23645"}}},
{"data":{"values":[
{"a":"2016-07-05","b":"2016-07-05","p":907,"q":416.5},{"a":"2016-06-03","b":"2016-08-17","p":416.5,"q":416.5},{"a":"2016-06-06","b":"2016-07-05","p":447,"q":416.5},{"a":"2016-08-02","b":"2016-07-05","p":447,"q":416.5},{"a":"2016-06-03","b":"2016-08-17","p":907,"q":907},
{"a":"2019-06-15","b":"2019-11-20","p":16860,"q":16860},{"a":"2019-09-30","b":"2019-09-30","p":16860,"q":5323},{"a":"2019-07-06","b":"2019-10-03","p":5323,"q":5323},{"a":"2019-09-03","b":"2019-09-30","p":5754,"q":5323},{"a":"2019-10-27","b":"2019-09-30","p":5754,"q":5323}]},
"mark":{"type":"rule","color":"#131722","strokeWidth":1.5},
"encoding":{"x":{"field":"a","type":"temporal","scale":{"domain":[{"year":2013,"month":9,"date":8},{"year":2026,"month":4,"date":11}],"nice":false},"axis":null},"x2":{"field":"b"},"y":{"field":"p","type":"quantitative","scale":{"type":"log","domain":[17.58,217700],"nice":false},"axis":null},"y2":{"field":"q"}}},
{"data":{"name":"one"},"mark":{"type":"point","shape":"circle","filled":false,"color":"#8e8e8e","opacity":1,"strokeWidth":2.6,"size":9025},"encoding":{"x":{"datum":{"year":2016,"month":7,"date":2},"type":"temporal","scale":{"domain":[{"year":2013,"month":9,"date":8},{"year":2026,"month":4,"date":11}],"nice":false},"axis":null},"y":{"datum":630.5,"type":"quantitative","scale":{"type":"log","domain":[17.58,217700],"nice":false},"axis":null}}},
{"data":{"name":"one"},"mark":{"type":"point","shape":"circle","filled":false,"color":"#8e8e8e","opacity":1,"strokeWidth":2.6,"size":14884},"encoding":{"x":{"datum":{"year":2019,"month":8,"date":18},"type":"temporal","scale":{"domain":[{"year":2013,"month":9,"date":8},{"year":2026,"month":4,"date":11}],"nice":false},"axis":null},"y":{"datum":9668,"type":"quantitative","scale":{"type":"log","domain":[17.58,217700],"nice":false},"axis":null}}},
{"data":{"values":[
{"t":"1","d":"2017-08-20","p":1240},{"t":"0.786","d":"2017-08-20","p":801},{"t":"0.5","d":"2017-08-20","p":447},{"t":"0","d":"2017-08-20","p":161},
{"t":"1","d":"2021-03-14","p":19800},{"t":"0.786","d":"2021-03-14","p":13334},{"t":"0.5","d":"2021-03-14","p":7860},{"t":"0","d":"2021-03-14","p":3120},
{"t":"1 (68997.75)","d":"2024-05-11","p":68997.75},{"t":"0.786 (50106.94)","d":"2024-05-11","p":50106.94},{"t":"0.5 (32675.01)","d":"2024-05-11","p":32675.01},{"t":"0 (15473.78)","d":"2024-05-11","p":15473.78}]},
"mark":{"type":"text","align":"left","baseline":"middle","dy":-12,"fontSize":15.2,"color":"#131722","font":"Inter"},
"encoding":{"x":{"field":"d","type":"temporal","scale":{"domain":[{"year":2013,"month":9,"date":8},{"year":2026,"month":4,"date":11}],"nice":false},"axis":null},"y":{"field":"p","type":"quantitative","scale":{"type":"log","domain":[17.58,217700],"nice":false},"axis":null},"text":{"field":"t"}}},
{"data":{"values":[{"t":"−318.87 (−40.37%) −31887","d":"2016-07-05","p":358},{"t":"−7440.48 (−53.64%) −744048","d":"2019-09-19","p":4911}]},
"mark":{"type":"text","align":"center","baseline":"middle","fontSize":15.2,"color":"#131722","font":"Inter"},
"encoding":{"x":{"field":"d","type":"temporal","scale":{"domain":[{"year":2013,"month":9,"date":8},{"year":2026,"month":4,"date":11}],"nice":false},"axis":null},"y":{"field":"p","type":"quantitative","scale":{"type":"log","domain":[17.58,217700],"nice":false},"axis":null},"text":{"field":"t"}}},
{"data":{"name":"one"},"mark":{"type":"text","align":"left","baseline":"middle","fontSize":14.3,"color":"#131722","font":"Inter","text":"published on TradingView.com, Dec 29, 2023 22:58 UTC"},"encoding":{"x":{"datum":{"year":2014,"month":7,"date":8},"type":"temporal","scale":{"domain":[{"year":2013,"month":9,"date":8},{"year":2026,"month":4,"date":11}],"nice":false},"axis":null},"y":{"datum":148260,"type":"quantitative","scale":{"type":"log","domain":[17.58,217700],"nice":false},"axis":null}}},
{"data":{"name":"one"},"mark":{"type":"text","align":"left","baseline":"middle","fontSize":14.3,"color":"#131722","font":"Inter","text":"Bitcoin / U.S. Dollar, 1W, INDEX"},"encoding":{"x":{"datum":{"year":2013,"month":11,"date":12},"type":"temporal","scale":{"domain":[{"year":2013,"month":9,"date":8},{"year":2026,"month":4,"date":11}],"nice":false},"axis":null},"y":{"datum":107270,"type":"quantitative","scale":{"type":"log","domain":[17.58,217700],"nice":false},"axis":null}}},
{"data":{"values":[
{"t":"O","d":"2015-08-21","k":"lab"},{"t":"43568.56","d":"2015-09-17","k":"val"},{"t":"H","d":"2016-05-02","k":"lab"},{"t":"43821.05","d":"2016-05-29","k":"val"},{"t":"L","d":"2017-01-06","k":"lab"},{"t":"41302.65","d":"2017-01-30","k":"val"},{"t":"C","d":"2017-08-29","k":"lab"},{"t":"41810.41","d":"2017-09-30","k":"val"},{"t":"−1218.57 (−2.83%)","d":"2018-04-14","k":"val"}]},
"mark":{"type":"text","align":"left","baseline":"middle","fontSize":14.8,"font":"Inter"},
"encoding":{"x":{"field":"d","type":"temporal","scale":{"domain":[{"year":2013,"month":9,"date":8},{"year":2026,"month":4,"date":11}],"nice":false},"axis":null},"y":{"datum":107270,"type":"quantitative","scale":{"type":"log","domain":[17.58,217700],"nice":false},"axis":null},"text":{"field":"t"},"color":{"field":"k","type":"nominal","scale":{"domain":["lab","val"],"range":["#131722","#f23645"]},"legend":null}}},
{"data":{"name":"one"},"mark":{"type":"rect","fill":"#ffffff","stroke":"#e6e8ec","strokeWidth":1,"cornerRadius":4},"encoding":{"x":{"datum":{"year":2025,"month":6,"date":3},"type":"temporal","scale":{"domain":[{"year":2013,"month":9,"date":8},{"year":2026,"month":4,"date":11}],"nice":false},"axis":null},"x2":{"datum":{"year":2026,"month":2,"date":20}},"y":{"datum":122380,"type":"quantitative","scale":{"type":"log","domain":[17.58,217700],"nice":false},"axis":null},"y2":{"datum":91250}}},
{"data":{"name":"one"},"mark":{"type":"text","align":"left","baseline":"middle","fontSize":14.6,"color":"#131722","font":"Inter","text":"USD"},"encoding":{"x":{"datum":{"year":2025,"month":7,"date":6},"type":"temporal","scale":{"domain":[{"year":2013,"month":9,"date":8},{"year":2026,"month":4,"date":11}],"nice":false},"axis":null},"y":{"datum":106190,"type":"quantitative","scale":{"type":"log","domain":[17.58,217700],"nice":false},"axis":null}}},
{"data":{"name":"one"},"mark":{"type":"rect","color":"#f23645","cornerRadius":2},"encoding":{"x":{"datum":{"year":2025,"month":5,"date":20},"type":"temporal","scale":{"domain":[{"year":2013,"month":9,"date":8},{"year":2026,"month":4,"date":11}],"nice":false},"axis":null},"x2":{"datum":{"year":2026,"month":1,"date":21}},"y":{"datum":46350,"type":"quantitative","scale":{"type":"log","domain":[17.58,217700],"nice":false},"axis":null},"y2":{"datum":31880}}},
{"data":{"name":"one"},"mark":{"type":"text","align":"left","baseline":"middle","fontSize":14.6,"color":"#ffffff","font":"Inter","text":"41810.41"},"encoding":{"x":{"datum":{"year":2025,"month":6,"date":18},"type":"temporal","scale":{"domain":[{"year":2013,"month":9,"date":8},{"year":2026,"month":4,"date":11}],"nice":false},"axis":null},"y":{"datum":41890,"type":"quantitative","scale":{"type":"log","domain":[17.58,217700],"nice":false},"axis":null}}},
{"data":{"name":"one"},"mark":{"type":"text","align":"left","baseline":"middle","fontSize":14.6,"color":"#ffdfe2","font":"Inter","text":"2d 2h"},"encoding":{"x":{"datum":{"year":2025,"month":6,"date":18},"type":"temporal","scale":{"domain":[{"year":2013,"month":9,"date":8},{"year":2026,"month":4,"date":11}],"nice":false},"axis":null},"y":{"datum":35270,"type":"quantitative","scale":{"type":"log","domain":[17.58,217700],"nice":false},"axis":null}}},
{"data":{"name":"one"},"mark":{"type":"text","align":"left","baseline":"middle","fontSize":16,"fontWeight":900,"color":"#131722","font":"Inter","text":"TV"},"encoding":{"x":{"datum":{"year":2013,"month":10,"date":14},"type":"temporal","scale":{"domain":[{"year":2013,"month":9,"date":8},{"year":2026,"month":4,"date":11}],"nice":false},"axis":null},"y":{"datum":50.83,"type":"quantitative","scale":{"type":"log","domain":[17.58,217700],"nice":false},"axis":null}}},
{"data":{"name":"one"},"mark":{"type":"text","align":"left","baseline":"middle","fontSize":15.5,"color":"#131722","font":"Inter","text":"TradingView"},"encoding":{"x":{"datum":{"year":2014,"month":1,"date":4},"type":"temporal","scale":{"domain":[{"year":2013,"month":9,"date":8},{"year":2026,"month":4,"date":11}],"nice":false},"axis":null},"y":{"datum":50.83,"type":"quantitative","scale":{"type":"log","domain":[17.58,217700],"nice":false},"axis":null}}},
{"data":{"name":"one"},"mark":{"type":"text","align":"left","baseline":"alphabetic","fontSize":42,"fontWeight":900,"color":"#1bbf9c","font":"Lato","text":"OMP"},"encoding":{"x":{"datum":{"year":2014,"month":3,"date":11},"type":"temporal","scale":{"domain":[{"year":2013,"month":9,"date":8},{"year":2026,"month":4,"date":11}],"nice":false},"axis":null},"y":{"datum":25.3,"type":"quantitative","scale":{"type":"log","domain":[17.58,217700],"nice":false},"axis":null}}},
{"data":{"name":"one"},"mark":{"type":"text","align":"left","baseline":"alphabetic","fontSize":20,"fontWeight":300,"color":"#1bbf9c","font":"Lato","text":"F\u00a0\u00a0\u2009i\u00a0\u00a0\u2009n\u00a0\u00a0\u2009e\u00a0\u00a0\u2009x"},"encoding":{"x":{"datum":{"year":2014,"month":3,"date":11},"type":"temporal","scale":{"domain":[{"year":2013,"month":9,"date":8},{"year":2026,"month":4,"date":11}],"nice":false},"axis":null},"y":{"datum":19.26,"type":"quantitative","scale":{"type":"log","domain":[17.58,217700],"nice":false},"axis":null}}}
]
}
